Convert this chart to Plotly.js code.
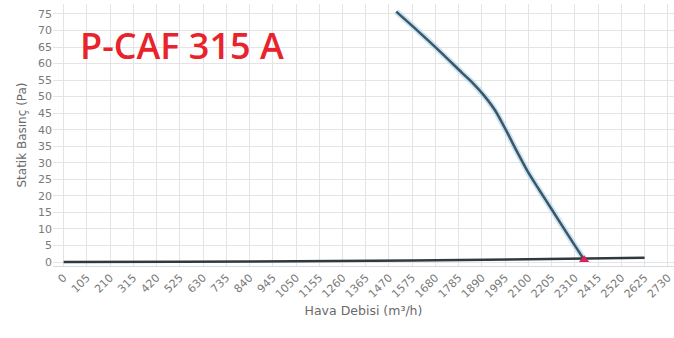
<!DOCTYPE html>
<html>
<head>
<meta charset="utf-8">
<script src="https://cdn.plot.ly/plotly-3.0.1.min.js"></script>
<style>html,body{margin:0;padding:0;background:#fff;}#chart{width:674px;height:338px;}</style>
</head>
<body>
<div id="chart"></div>
<script>
// Fan curve (Hava Debisi m3/h vs Statik Basınç Pa)
const fanFlow     = [1503, 1600, 1700, 1800, 1850, 1900, 1950, 2000, 2050, 2100, 2150, 2200, 2300, 2352];
const fanPressure = [75.7, 69.9, 63.7, 57.2, 54.0, 50.3, 45.8, 39.7, 33.2, 27.0, 21.7, 16.5, 6.0, 0.7];
// System curve
const sysFlow     = [0, 525, 1050, 1575, 2100, 2625];
const sysPressure = [0, 0.05, 0.21, 0.47, 0.83, 1.3];
// Operating point
const opFlow = [2352];
const opPressure = [0.7];
// Tick labels
const xTicks = [0,105,210,315,420,525,630,735,840,945,1050,1155,1260,1365,1470,1575,1680,1785,1890,1995,2100,2205,2310,2415,2520,2625,2730];
const yTicks = [0,5,10,15,20,25,30,35,40,45,50,55,60,65,70,75];

const traces = [
  {x: fanFlow, y: fanPressure, mode: 'lines', line: {color: 'rgba(175,218,242,0.7)', width: 6, shape: 'spline', smoothing: 0.8}, hoverinfo: 'skip'},
  {x: fanFlow, y: fanPressure, mode: 'lines', line: {color: '#3f5564', width: 2.5, shape: 'spline', smoothing: 0.8}},
  {x: sysFlow, y: sysPressure, mode: 'lines', line: {color: '#2f3a40', width: 2.5, shape: 'spline'}},
  {x: opFlow, y: opPressure, mode: 'markers', marker: {color: '#d8245a', size: 9, symbol: 'triangle-up'}}
];

const layout = {
  width: 674, height: 338,
  margin: {l: 53, r: 0, t: 4, b: 72},
  paper_bgcolor: '#fff', plot_bgcolor: '#fff',
  showlegend: false,
  xaxis: {
    range: [-48, 2758], tickvals: xTicks, ticktext: xTicks.map(String),
    tickangle: -45, tickfont: {family: 'DejaVu Sans', size: 11, color: '#7a7a7a'},
    ticklabeloverflow: 'allow',
    showgrid: true, gridcolor: '#e4e4e4', gridwidth: 1,
    zeroline: false, showline: true, linecolor: '#d5dbe0', linewidth: 1, ticks: '',
    title: {text: 'Hava Debisi (m³/h)', font: {family: 'DejaVu Sans', size: 12.5, color: '#6a6a6a'}, standoff: 6}
  },
  yaxis: {
    range: [-1.2, 78], tickvals: yTicks, tickfont: {family: 'DejaVu Sans', size: 11, color: '#7a7a7a'},
    showgrid: true, gridcolor: '#e4e4e4', gridwidth: 1, zeroline: false, ticks: '',
    title: {text: 'Statik Basınç (Pa)', font: {family: 'DejaVu Sans', size: 12, color: '#6a6a6a'}, standoff: 8}
  },
  annotations: [{
    xref: 'paper', yref: 'paper', x: 0.041, y: 0.842, xanchor: 'left', yanchor: 'middle',
    text: 'P-CAF 315 A', showarrow: false,
    font: {family: 'Open Sans', size: 36, color: '#e8232b', weight: 600}
  }]
};

Plotly.newPlot('chart', traces, layout, {displayModeBar: false, staticPlot: true});
</script>
</body>
</html>
